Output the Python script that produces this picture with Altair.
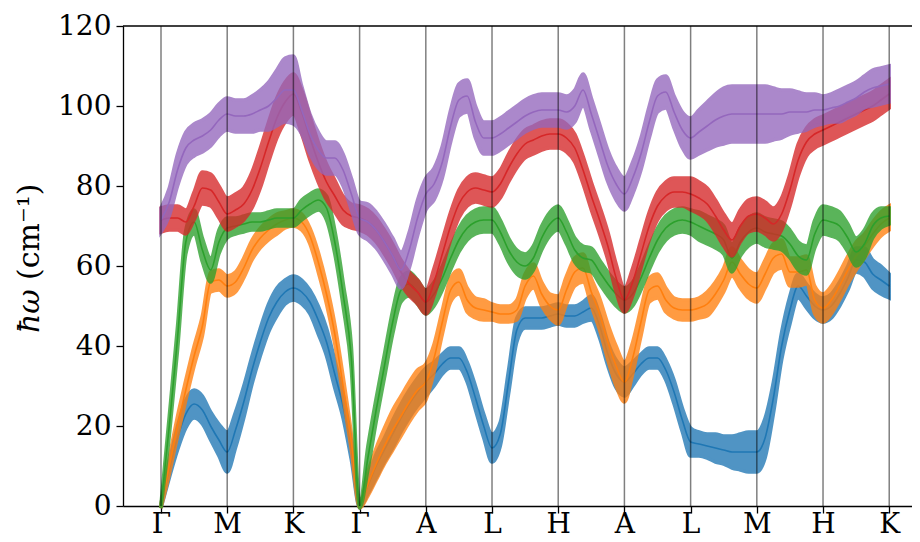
import altair as alt
import pandas as pd

# high-symmetry path
labels = ["Γ", "M", "K", "Γ", "A", "L", "H", "A", "L", "M", "H", "K"]
tick_pos = list(range(12))
y_ticks = [0, 20, 40, 60, 80, 100, 120]
n_sub = 8  # samples per path segment

# band centres (cm^-1), 8 samples per segment
blue = [0, 9, 17, 23, 25.5, 24, 20, 16.5, 13.5,
        19, 26, 34, 41, 47, 51, 53.5, 54.5,
        53.5, 51, 46.5, 41, 33, 25, 14, 0,
        5, 10, 14, 18, 22, 25.5, 28.5, 31,
        33, 35.5, 37, 37, 33.5, 27, 20, 14.5,
        18, 31, 44, 47, 47, 47, 47.5, 48,
        47.5, 47.5, 48.5, 49.5, 45, 38, 33, 31,
        33, 35.5, 37, 37, 34, 28.5, 21.5, 16,
        15.5, 15, 14.5, 14, 13.5, 13.5, 13.5, 13.5,
        17, 27, 40, 49, 55, 52.5, 50, 49,
        50, 53, 57, 61.5, 61, 58, 56.5, 55]
orange = [0, 10, 20, 29, 37.5, 45, 56, 56.5, 55,
          56, 59.5, 64, 67, 69, 70.5, 71.5, 72,
          71, 67.5, 61, 53, 43, 30, 16, 0,
          5.5, 10.5, 15, 19, 22.5, 26, 29, 31,
          37, 46, 54, 56, 51.5, 49.5, 49, 48.5,
          48, 48, 49, 55, 57.5, 53, 50, 49,
          54, 58.5, 59.5, 53.5, 48, 41, 35, 31,
          37, 46, 54, 55, 51.5, 49.5, 49, 49,
          49.5, 50.5, 53, 56.5, 61, 58, 55.5, 54.5,
          58, 62, 63, 58.5, 58.5, 59, 51.5, 49.5,
          51.5, 55, 59, 62.5, 65, 68, 70.5, 72]
green = [0, 20, 42, 66, 71, 64, 59, 66, 69.5,
         70, 70.5, 71, 71, 71.5, 72, 72, 72,
         74, 75.5, 76.5, 74.5, 66, 53, 37, 0,
         12, 24, 35, 46, 54, 55.5, 53.5, 51,
         53, 57, 62, 66.5, 69.5, 71, 71.5, 71.5,
         68.5, 64, 61, 60, 62, 67, 70.5, 72,
         68.5, 64, 62, 61.5, 58.5, 55.5, 53, 51.5,
         53, 57, 62, 66.5, 69.5, 71, 71.5, 71,
         70, 69, 68, 66.5, 62, 66, 68.5, 69.5,
         68.5, 68, 67.5, 65.5, 62.5, 61.5, 68, 71.5,
         71, 70, 67, 63.5, 65.5, 70, 72, 72.5]
red = [71.5, 72, 72, 71, 75, 79.5, 79, 76, 73,
       74, 75.5, 79, 84.5, 91, 97, 101, 103,
       98.5, 92, 86, 81, 77.5, 74, 72.5, 72,
       71, 69, 66, 62.5, 58.5, 55.5, 53.5, 51,
       56, 63, 70, 75.5, 78.5, 79.5, 79, 78.5,
       80.5, 84.5, 88, 90.5, 91.5, 92.5, 93, 93,
       92, 89.5, 84, 77.5, 71.5, 65, 57, 51.5,
       56, 63, 70, 75, 77.5, 78.5, 78.5, 78,
       77, 75.5, 72.5, 69, 66.5, 70, 72.5, 73,
       72, 70.5, 73, 79, 86.5, 91, 93, 94,
       95, 96, 97, 98, 99, 100, 101.5, 103]
purple = [71.5, 76, 84, 89.5, 91.5, 92.5, 94, 96.5, 98,
          97.5, 97.5, 98, 99, 100, 102, 104, 104,
          99, 93, 89, 87, 87, 84, 78, 72,
          71, 69, 66, 62.5, 59, 64, 72, 78,
          80.5, 86, 95, 101.5, 102.5, 96, 92, 92,
          93, 94.5, 96, 97.5, 98.5, 99, 99, 99,
          98.5, 100, 104, 98, 91.5, 85, 80.5, 78,
          82, 88, 96, 102.5, 103.5, 98.5, 94, 92,
          93.5, 95, 96.5, 97.5, 98, 98, 98, 98,
          98, 98, 98, 98.5, 98.5, 98.5, 99, 99,
          99.5, 100, 101, 102, 103.5, 104.5, 105, 105.5]

# half-widths of the error bars (cm^-1)
blue_err = [0.5, 2, 3, 3.5, 3.5, 3.5, 3.5, 4, 5,
            4.5, 4, 3.5, 3.5, 3.5, 3.5, 3, 3,
            3, 3, 3.5, 3.5, 3.5, 3, 2.5, 0.5,
            2, 3, 3, 3.5, 3.5, 3.5, 3.5, 3.5,
            3, 2.5, 2.5, 2.5, 2.5, 3, 3, 3.5,
            3, 3, 3, 2.5, 2.5, 2.5, 2.5, 2.5,
            2.5, 2.5, 2.5, 3, 3, 3, 3.5, 3.5,
            3, 2.5, 2.5, 2.5, 2.5, 3, 3, 3.5,
            3, 3, 3.5, 3.5, 4, 4.5, 5, 5,
            5, 4, 3.5, 3.5, 3, 3, 3, 3,
            3, 3, 3, 3, 3.5, 3.5, 3.5, 3]
orange_err = [0.5, 2, 2.5, 2.5, 2.5, 2.5, 2.5, 2.5, 2.5,
              2.5, 2.5, 2.5, 2.5, 2.5, 2.5, 2, 2,
              2, 2, 2.5, 2.5, 2.5, 2.5, 2, 0.5,
              3, 4, 4.5, 5, 5, 5, 5, 4.5,
              3.5, 3, 3, 3, 3, 2.5, 2.5, 2,
              2, 2, 2.5, 3, 3, 3, 3, 3.5,
              3.5, 3.5, 3.5, 3.5, 4, 4.5, 5, 5,
              4, 3.5, 3, 3, 3, 2.5, 2.5, 2.5,
              2.5, 3, 3, 3, 3.5, 3.5, 3.5, 3.5,
              3.5, 3.5, 3.5, 3.5, 3.5, 3.5, 3.5, 3.5,
              3.5, 3.5, 3.5, 3.5, 3, 3, 3, 3]
green_err = [0.5, 2.5, 3, 3, 3, 3, 3, 3, 2.5,
             2, 2, 2, 2, 2, 2, 2, 2,
             2.5, 2.5, 2.5, 3, 3, 3, 3, 0.5,
             3, 3, 3, 3, 3, 3, 3, 3,
             3, 3, 3, 3, 3, 3, 3, 3,
             3, 3, 3, 3, 3, 3, 3, 3,
             3, 3, 3, 3, 3, 3, 3, 3,
             3, 3, 3, 3, 3, 3, 3, 3,
             3.5, 3.5, 3.5, 3.5, 3.5, 3.5, 3.5, 3.5,
             3.5, 3.5, 3.5, 3.5, 3.5, 3.5, 3.5, 3.5,
             3.5, 3.5, 3.5, 3.5, 3.5, 3, 2.5, 2]
red_err = [3, 3, 3, 3, 3.5, 4, 4, 4, 4,
           4, 4, 4.5, 5, 5, 5, 5, 5,
           5.5, 5.5, 5, 4.5, 4, 3.5, 3, 3,
           3, 3, 3, 3, 3, 3, 3, 3,
           3.5, 3.5, 3.5, 3.5, 3.5, 3.5, 3.5, 3.5,
           3.5, 3.5, 3.5, 3.5, 3.5, 3.5, 3.5, 3.5,
           3.5, 3.5, 3.5, 3.5, 3.5, 3.5, 3.5, 3,
           3.5, 3.5, 3.5, 3.5, 3.5, 3.5, 3.5, 4,
           4, 4, 4, 4, 4, 4, 4, 4,
           4, 4, 4, 4, 4, 3.5, 3.5, 3.5,
           3.5, 3.5, 3.5, 3.5, 3.5, 3.5, 3.5, 3.5]
purple_err = [3, 3.5, 4, 4, 4, 4, 4, 4, 4,
              4, 4, 4.5, 5, 6, 7, 8, 8.5,
              6, 5, 4.5, 4, 4, 4, 4, 4,
              4.5, 4.5, 4.5, 4.5, 4.5, 4.5, 4.5, 4,
              4, 4, 4, 4, 4, 4, 4, 4,
              4, 4, 4, 4, 4, 4, 4, 4,
              4, 4, 4, 4, 4, 4, 4, 4,
              4, 4, 4, 4, 4, 4, 4.5, 5,
              5.5, 6, 6.5, 7, 7, 7, 7, 7,
              7, 6.5, 6, 5.5, 5, 4.5, 4, 3.5,
              3.5, 4, 4, 4, 4, 4.5, 4.5, 4.5]

bands = [("b1", blue, blue_err, "#1f77b4"),
         ("b2", orange, orange_err, "#ff7f0e"),
         ("b3", green, green_err, "#2ca02c"),
         ("b4", red, red_err, "#d62728"),
         ("b5", purple, purple_err, "#9467bd")]

u = [i / n_sub for i in range(len(blue))]

W, H = 789, 480
x_scale = alt.Scale(domain=[-0.574, 11.344], nice=False, zero=False)
y_scale = alt.Scale(domain=[0, 120], nice=False, zero=False)

label_expr = "[" + ",".join("'" + s + "'" for s in labels) + "][round(datum.value)]"

layers = []
for i, (name, vals, errs, col) in enumerate(bands):
    d = pd.DataFrame({"u": u, "val": vals,
                      "lo": [v - e for v, e in zip(vals, errs)],
                      "hi": [v + e for v, e in zip(vals, errs)]})
    base = alt.Chart(d)
    if i == 0:
        xenc = alt.X("u:Q", scale=x_scale, title=None,
                     axis=alt.Axis(values=tick_pos, labelExpr=label_expr, grid=False,
                                   labelBaseline="alphabetic", labelPadding=19))
        yenc = alt.Y("lo:Q", scale=y_scale, title=None,
                     axis=alt.Axis(values=y_ticks, grid=False, labelPadding=5))
    else:
        xenc = alt.X("u:Q", scale=x_scale, title=None)
        yenc = alt.Y("lo:Q", scale=y_scale, title=None)
    area = base.mark_area(color=col, stroke=col, strokeWidth=3.5, opacity=0.78,
                          interpolate="monotone").encode(x=xenc, y=yenc, y2="hi:Q")
    line = base.mark_line(color=col, strokeWidth=1.6, interpolate="monotone").encode(
        x=alt.X("u:Q", scale=x_scale, title=None),
        y=alt.Y("val:Q", scale=y_scale, title=None))
    layers += [area, line]

vlines = alt.Chart(pd.DataFrame({"pos": tick_pos})).mark_rule(
    color="black", opacity=0.5, strokeWidth=1.5).encode(
    x=alt.X("pos:Q", scale=x_scale, title=None))

top_spine = alt.Chart(pd.DataFrame({"a": [0]})).mark_rule(
    color="black", strokeWidth=1.3).encode(
    x=alt.value(0), x2=alt.value(W), y=alt.value(0))

title_a = alt.Chart(pd.DataFrame({"t": ["ħω"]})).mark_text(
    angle=270, align="left", baseline="middle", font="DejaVu Serif",
    fontSize=30, fontStyle="italic", color="black").encode(
    text="t:N", x=alt.value(-93), y=alt.value(307))
title_b = alt.Chart(pd.DataFrame({"t": ["(cm⁻¹)"]})).mark_text(
    angle=270, align="left", baseline="middle", font="DejaVu Serif",
    fontSize=30, color="black").encode(
    text="t:N", x=alt.value(-93), y=alt.value(254))

chart = alt.layer(*layers, vlines, top_spine, title_a, title_b).properties(
    width=W, height=H,
    padding={"left": 115, "top": 18, "right": 0, "bottom": 28},
    autosize=alt.AutoSizeParams(type="none"),
).configure_view(stroke=None).configure_axis(
    labelFont="DejaVu Serif", labelFontSize=28, labelColor="black",
    domainColor="black", domainWidth=1.3, tickColor="black", tickWidth=1.3,
    tickSize=7,
)

chart.save("out.html", embed_options={"renderer": "svg", "actions": False})
